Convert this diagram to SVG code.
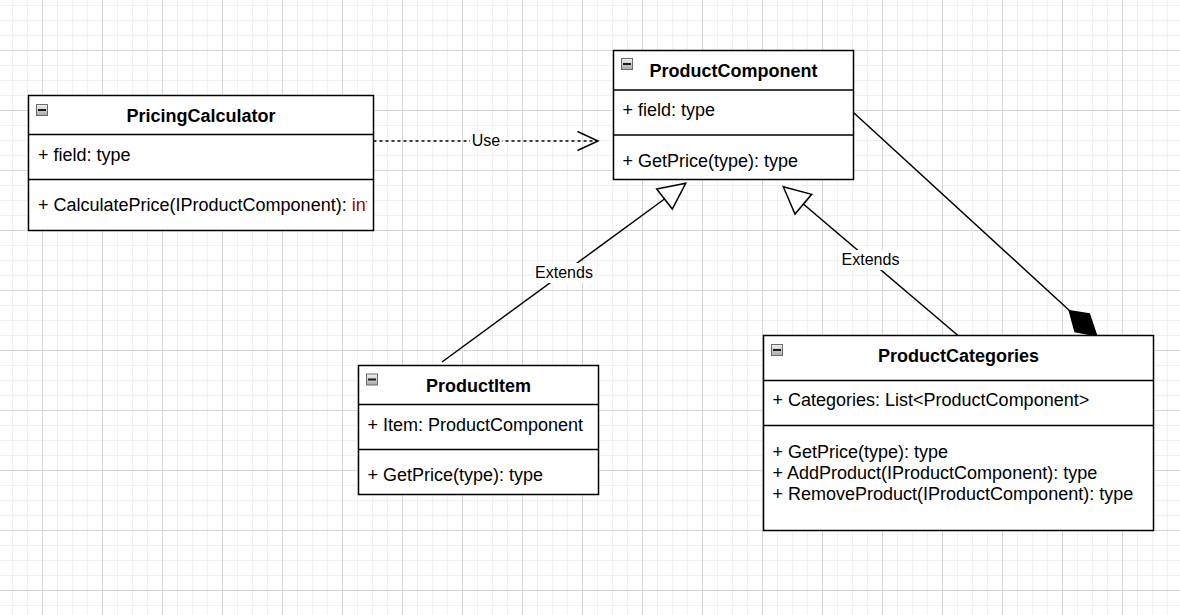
<svg xmlns="http://www.w3.org/2000/svg" width="1180" height="615" viewBox="0 0 1180 615">
<style>
.box{fill:#ffffff;stroke:#000000;stroke-width:1.5}
.sep{stroke:#000000;stroke-width:1.5;fill:none}
.title{font-family:"Liberation Sans",Arial,sans-serif;font-size:18px;font-weight:bold;fill:#000000;text-anchor:middle}
.txt{font-family:"Liberation Sans",Arial,sans-serif;font-size:18px;fill:#000000}
.lbl{font-family:"Liberation Sans",Arial,sans-serif;font-size:16px;fill:#000000;text-anchor:middle}
.edge{stroke:#000000;stroke-width:1.5;fill:none}
.lblbg{fill:#ffffff}
</style>
<defs>
<pattern id="grid" patternUnits="userSpaceOnUse" x="12" y="5" width="60" height="60">
<rect x="0" y="0" width="1" height="60" fill="#f0f0f0"/>
<rect x="15" y="0" width="1" height="60" fill="#f0f0f0"/>
<rect x="45" y="0" width="1" height="60" fill="#f0f0f0"/>
<rect x="0" y="0" width="60" height="1" fill="#f0f0f0"/>
<rect x="0" y="15" width="60" height="1" fill="#f0f0f0"/>
<rect x="0" y="30" width="60" height="1" fill="#f0f0f0"/>
<rect x="30" y="0" width="1" height="60" fill="#d6d6d6"/>
<rect x="0" y="45" width="60" height="1" fill="#d6d6d6"/>
</pattern>
<linearGradient id="icongrad" x1="0" y1="0" x2="0" y2="1">
<stop offset="0" stop-color="#f2f2f2"/>
<stop offset="1" stop-color="#a8a8a8"/>
</linearGradient>
<g id="icon">
<rect x="0.5" y="0.5" width="11" height="11" fill="url(#icongrad)" stroke="#6b6b6b" stroke-width="1"/>
<rect x="2" y="5" width="8" height="2" fill="#1a1a1a"/>
</g>
<clipPath id="clipPC">
<rect x="29" y="180" width="338" height="50"/>
</clipPath>
</defs>
<rect x="0" y="0" width="1180" height="615" fill="#ffffff"/>
<rect x="0" y="0" width="1180" height="615" fill="url(#grid)"/>

<g id="connectors">
<g id="edge-use">
<line class="edge" x1="373.5" y1="141" x2="597" y2="141" stroke-dasharray="3 3"/>
<polyline class="edge" points="577.5,131.5 598,141 577.5,150.5"/>
<rect class="lblbg" x="470" y="132" width="32" height="17"/>
<text class="lbl" x="486" y="146">Use</text>
</g>
<g id="edge-extends-item">
<line class="edge" x1="442" y1="362" x2="664.5" y2="199"/>
<polygon points="685.7,183.3 656.7,189 672.3,209" fill="#ffffff" stroke="#000000" stroke-width="1.5" stroke-linejoin="miter"/>
<rect class="lblbg" x="533" y="263" width="62" height="20"/>
<text class="lbl" x="564" y="277.5">Extends</text>
</g>
<g id="edge-extends-categories">
<line class="edge" x1="958" y1="335.5" x2="803.3" y2="204"/>
<polygon points="783.3,186.7 811.7,194.3 795,214" fill="#ffffff" stroke="#000000" stroke-width="1.5" stroke-linejoin="miter"/>
<rect class="lblbg" x="839" y="250" width="62" height="20"/>
<text class="lbl" x="870.5" y="265">Extends</text>
</g>
<g id="edge-composition">
<line class="edge" x1="854" y1="113" x2="1070" y2="311"/>
<polygon points="1069.3,310.7 1089.3,314 1096.7,335.7 1075,331.7" fill="#000000" stroke="#000000" stroke-width="1.5"/>
</g>
</g>

<g id="PricingCalculator">
<rect class="box" x="28.5" y="95.5" width="345" height="135"/>
<line class="sep" x1="28.5" y1="134.5" x2="373.5" y2="134.5"/>
<line class="sep" x1="28.5" y1="179.5" x2="373.5" y2="179.5"/>
<use href="#icon" x="36" y="104"/>
<text class="title" x="201" y="121.5">PricingCalculator</text>
<text class="txt" x="38" y="161">+ field: type</text>
<g clip-path="url(#clipPC)">
<text class="txt" x="38" y="211">+ CalculatePrice(IProductComponent): <tspan fill="#990000">int</tspan></text>
</g>
</g>

<g id="ProductComponent">
<rect class="box" x="613.5" y="50.5" width="240" height="129"/>
<line class="sep" x1="613.5" y1="90" x2="853.5" y2="90"/>
<line class="sep" x1="613.5" y1="135" x2="853.5" y2="135"/>
<use href="#icon" x="621" y="58"/>
<text class="title" x="733.5" y="76.5">ProductComponent</text>
<text class="txt" x="622.5" y="116">+ field: type</text>
<text class="txt" x="622.5" y="166.5">+ GetPrice(type): type</text>
</g>

<g id="ProductItem">
<rect class="box" x="358.5" y="365.5" width="240" height="129"/>
<line class="sep" x1="358.5" y1="404.5" x2="598.5" y2="404.5"/>
<line class="sep" x1="358.5" y1="449.5" x2="598.5" y2="449.5"/>
<use href="#icon" x="366" y="373.5"/>
<text class="title" x="478.5" y="391.5">ProductItem</text>
<text class="txt" x="367.5" y="431">+ Item: ProductComponent</text>
<text class="txt" x="367.5" y="481">+ GetPrice(type): type</text>
</g>

<g id="ProductCategories">
<rect class="box" x="763.5" y="335.5" width="390" height="195"/>
<line class="sep" x1="763.5" y1="380.5" x2="1153.5" y2="380.5"/>
<line class="sep" x1="763.5" y1="425.5" x2="1153.5" y2="425.5"/>
<use href="#icon" x="771" y="344"/>
<text class="title" x="958.5" y="361.5">ProductCategories</text>
<text class="txt" x="772.5" y="406">+ Categories: List&lt;ProductComponent&gt;</text>
<text class="txt" x="772.5" y="457.5">+ GetPrice(type): type</text>
<text class="txt" x="772.5" y="478.5">+ AddProduct(IProductComponent): type</text>
<text class="txt" x="772.5" y="499.5">+ RemoveProduct(IProductComponent): type</text>
</g>
</svg>
